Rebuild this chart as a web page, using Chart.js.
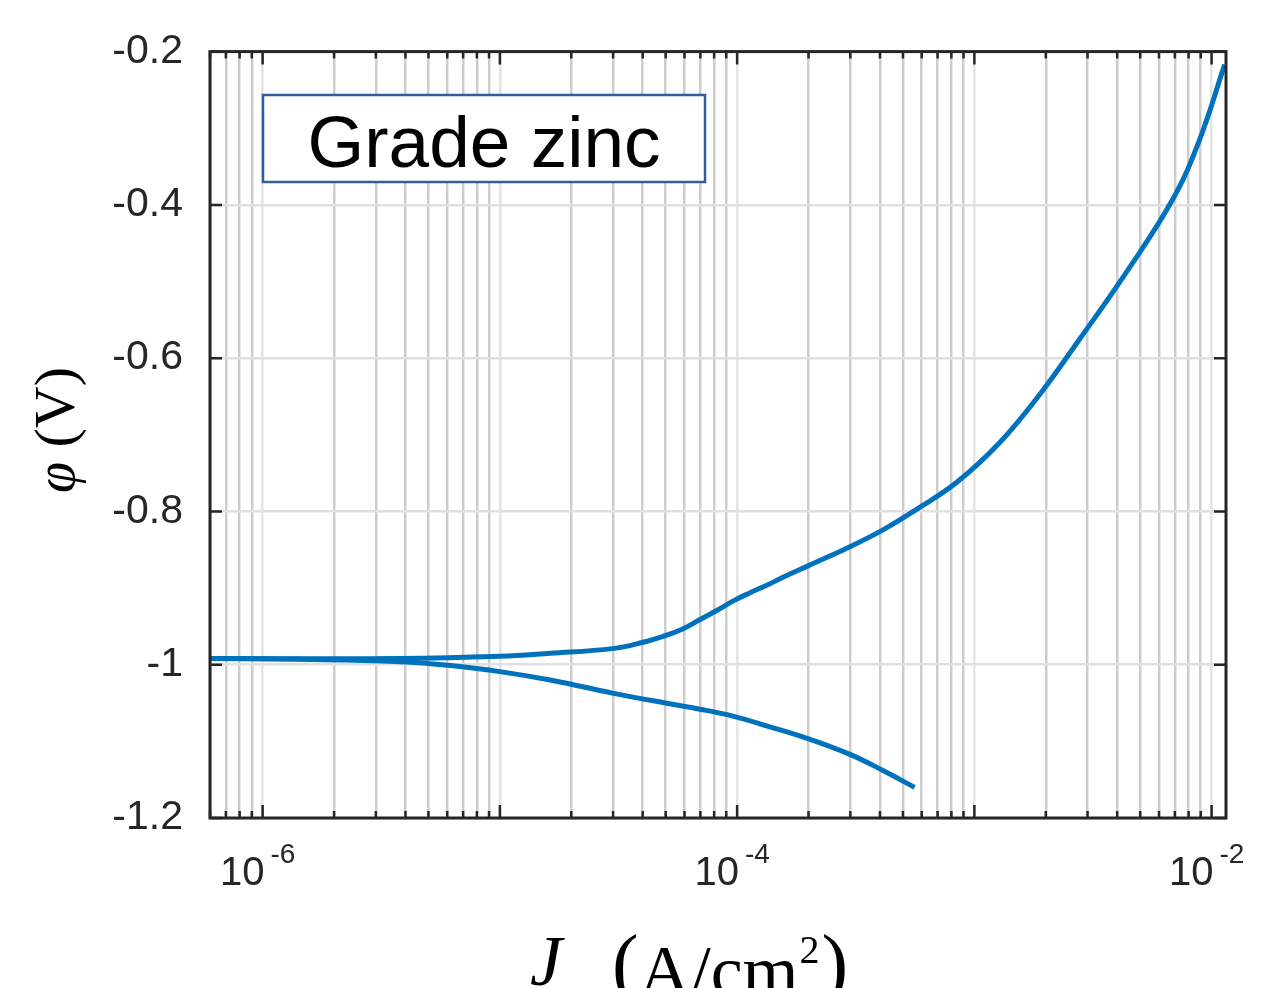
<!DOCTYPE html>
<html>
<head>
<meta charset="utf-8">
<script src="https://cdn.jsdelivr.net/npm/chart.js@4/dist/chart.umd.min.js"></script>
<style>
  html, body { margin: 0; padding: 0; background: #fff; }
  #wrap { width: 1266px; height: 988px; position: relative; }
</style>
</head>
<body>
<div id="wrap"><canvas id="myChart"></canvas></div>
<script>
// current density (A/cm^2) and potential (V)
var J_ANODIC = [6.0e-7, 3.8e-6, 1.0e-5, 1.63e-5, 2.98e-5, 3.98e-5, 4.98e-5, 5.93e-5, 6.98e-5, 8.24e-5,
	9.6e-5, 1.135e-4, 1.34e-4, 1.56e-4, 1.99e-4, 2.99e-4, 4.12e-4, 5.73e-4, 8.43e-4, 1.28e-3,
	1.89e-3, 2.78e-3, 4.22e-3, 6.85e-3, 8.9e-3, 1.135e-2];
var PHI_ANODIC = [-0.992, -0.992, -0.989, -0.985, -0.979, -0.971, -0.962, -0.953, -0.941, -0.929,
	-0.917, -0.906, -0.896, -0.886, -0.871, -0.846, -0.824, -0.797, -0.762, -0.710,
	-0.647, -0.575, -0.495, -0.393, -0.315, -0.217];

var J_CATHODIC = [6.0e-7, 1.45e-6, 3.8e-6, 6.2e-6, 1.0e-5, 1.63e-5, 2.98e-5, 4.98e-5, 6.98e-5, 9.6e-5,
	1.34e-4, 1.97e-4, 2.99e-4, 4.12e-4, 5.6e-4];
var PHI_CATHODIC = [-0.992, -0.993, -0.996, -1.001, -1.009, -1.020, -1.037, -1.050, -1.058, -1.067,
	-1.080, -1.096, -1.117, -1.138, -1.160];

var X_LABEL_EXPONENTS = [-6, -4, -2];
var LEGEND_TEXT = 'Grade zinc';

var J_MIN = 6.0e-7, J_MAX = 1.15e-2;
var PHI_MIN = -1.2, PHI_MAX = -0.2;

var LINE_COLOR = '#0072BD';
var AXIS_COLOR = '#262626';

function toPoints(xs, ys) {
	return xs.map(function (x, i) { return { x: x, y: ys[i] }; });
}

function isDecade(v) {
	var e = Math.log10(v);
	return Math.abs(e - Math.round(e)) < 1e-6;
}

var frameAndLabels = {
	id: 'frameAndLabels',
	afterDatasetsDraw: function (chart) {
		var ctx = chart.ctx, a = chart.chartArea;
		var xs = chart.scales.x, ys = chart.scales.y;
		ctx.save();
		ctx.strokeStyle = AXIS_COLOR;
		ctx.lineWidth = 2.5;
		// inward ticks
		xs.ticks.forEach(function (t) {
			var px = xs.getPixelForValue(t.value);
			var len = isDecade(t.value) ? 13 : 7;
			ctx.beginPath();
			ctx.moveTo(px, a.bottom); ctx.lineTo(px, a.bottom - len);
			ctx.moveTo(px, a.top); ctx.lineTo(px, a.top + len);
			ctx.stroke();
		});
		ys.ticks.forEach(function (t) {
			var py = ys.getPixelForValue(t.value);
			ctx.beginPath();
			ctx.moveTo(a.left, py); ctx.lineTo(a.left + 12, py);
			ctx.moveTo(a.right, py); ctx.lineTo(a.right - 12, py);
			ctx.stroke();
		});
		ctx.lineWidth = 3;
		ctx.strokeRect(a.left, a.top, a.right - a.left, a.bottom - a.top);

		// text box
		var bx = 263, by = 95, bw = 442, bh = 87;
		ctx.fillStyle = '#fff';
		ctx.fillRect(bx, by, bw, bh);
		ctx.strokeStyle = '#335c9e';
		ctx.lineWidth = 2.5;
		ctx.strokeRect(bx, by, bw, bh);
		ctx.fillStyle = '#000';
		ctx.font = '73px "Liberation Sans", Arial, sans-serif';
		ctx.textAlign = 'center';
		ctx.textBaseline = 'alphabetic';
		ctx.fillText(LEGEND_TEXT, bx + bw / 2, 167);
		ctx.restore();
	},
	afterDraw: function (chart) {
		var ctx = chart.ctx;
		var xs = chart.scales.x;
		ctx.save();
		ctx.fillStyle = AXIS_COLOR;
		ctx.textBaseline = 'alphabetic';
		ctx.textAlign = 'left';
		// x tick labels 10^n
		X_LABEL_EXPONENTS.forEach(function (e) {
			var px = xs.getPixelForValue(Math.pow(10, e));
			var base = '10', sup = '-' + Math.abs(e);
			ctx.font = '40px "Liberation Sans", Arial, sans-serif';
			var wb = ctx.measureText(base).width;
			ctx.font = '28px "Liberation Sans", Arial, sans-serif';
			var ws = ctx.measureText(sup).width;
			var x0 = px - (wb + 6 + ws) / 2 - 5;
			ctx.font = '40px "Liberation Sans", Arial, sans-serif';
			ctx.fillText(base, x0, 885);
			ctx.font = '28px "Liberation Sans", Arial, sans-serif';
			ctx.fillText(sup, x0 + wb + 6, 863);
		});

		// y title: phi (V)
		ctx.fillStyle = '#000';
		ctx.save();
		ctx.translate(74, 430);
		ctx.rotate(-Math.PI / 2);
		var fPhi = 'italic 56px "Liberation Serif", "Times New Roman", serif';
		var fV = '58px "Liberation Serif", "Times New Roman", serif';
		ctx.font = fPhi;
		var w1 = ctx.measureText('\u03c6').width;
		ctx.font = fV;
		var w2 = ctx.measureText(' (V)').width;
		var sx = -(w1 + w2) / 2;
		ctx.font = fPhi;
		ctx.fillText('\u03c6', sx, 0);
		ctx.font = fV;
		ctx.fillText(' (V)', sx + w1, 0);
		ctx.restore();

		// x title: J (A/cm^2)
		var x = 530;
		ctx.font = 'italic 72px "Liberation Serif", "Times New Roman", serif';
		ctx.fillText('J', x, 985);
		x = 612;
		ctx.font = '80px "Liberation Serif", "Times New Roman", serif';
		ctx.fillText('(', x, 990);
		x += ctx.measureText('(').width;
		ctx.font = '72px "Liberation Serif", "Times New Roman", serif';
		ctx.fillText('A/cm', x, 995);
		x += ctx.measureText('A/cm').width;
		ctx.font = '40px "Liberation Serif", "Times New Roman", serif';
		ctx.fillText('2', x + 1, 963);
		x += ctx.measureText('2').width + 3;
		ctx.font = '80px "Liberation Serif", "Times New Roman", serif';
		ctx.fillText(')', x, 990);
		ctx.restore();
	}
};

var chart = new Chart('myChart', {
	type: 'line',
	data: {
		datasets: [{
			label: 'anodic',
			data: toPoints(J_ANODIC, PHI_ANODIC),
			borderColor: LINE_COLOR,
			borderWidth: 5,
			pointRadius: 0,
			tension: 0.4,
			fill: false
		}, {
			label: 'cathodic',
			data: toPoints(J_CATHODIC, PHI_CATHODIC),
			borderColor: LINE_COLOR,
			borderWidth: 5,
			pointRadius: 0,
			tension: 0.4,
			fill: false
		}]
	},
	options: {
		responsive: true,
		maintainAspectRatio: false,
		animation: false,
		layout: {
			padding: { left: 0, right: 40, top: 49, bottom: 0 }
		},
		plugins: {
			legend: { display: false },
			tooltip: { enabled: false }
		},
		scales: {
			x: {
				type: 'logarithmic',
				min: J_MIN,
				max: J_MAX,
				border: { display: false },
				grid: {
					drawTicks: false,
					lineWidth: 2.5,
					color: function (context) {
						return context.tick && isDecade(context.tick.value) ? '#e4e4e4' : '#cdcdcd';
					}
				},
				ticks: { display: false },
				afterBuildTicks: function (scale) {
					var ticks = [];
					for (var e = -7; e <= -2; e++) {
						for (var m = 1; m <= 9; m++) {
							var v = m * Math.pow(10, e);
							if (v >= J_MIN && v <= J_MAX) ticks.push({ value: v });
						}
					}
					scale.ticks = ticks;
				},
				afterFit: function (scale) { scale.height = 170; }
			},
			y: {
				min: PHI_MIN,
				max: PHI_MAX,
				border: { display: false },
				grid: {
					drawTicks: false,
					lineWidth: 2.5,
					color: '#e0e0e0'
				},
				ticks: {
					stepSize: 0.2,
					padding: 27,
					color: AXIS_COLOR,
					font: { family: '"Liberation Sans", Arial, sans-serif', size: 41 },
					callback: function (value) {
						return String(parseFloat(value.toFixed(1)));
					}
				},
				afterFit: function (scale) { scale.width = 210; }
			}
		}
	},
	plugins: [frameAndLabels]
});
</script>
</body>
</html>
